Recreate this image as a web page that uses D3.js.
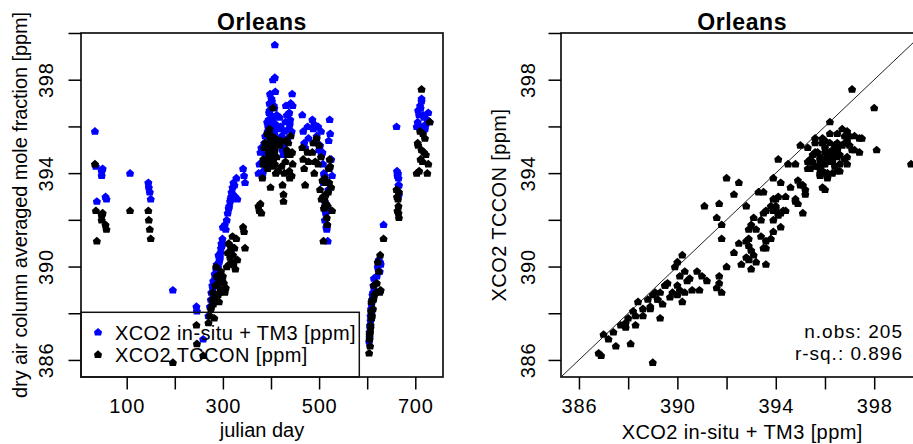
<!DOCTYPE html>
<html>
<head>
<meta charset="utf-8">
<script src="https://cdn.jsdelivr.net/npm/d3@7"></script>
<style>
  body { margin: 0; background: #fff; }
  svg text { font-family: "Liberation Sans", Arial, sans-serif; fill: #000; }
</style>
</head>
<body>
<div id="chart"></div>
<script>
// XCO2 at Orleans: model (in-situ + TM3) vs TCCON, time series + scatter
// one entry per observation, rows grouped by measurement period
const obsDay = [
  34, 36, 38, 48, 48, 50, 56, 58,
  107,
  145, 146, 148, 150,
  196, 245, 246, 259,
  270, 273, 275, 278, 280, 282, 284, 286, 288, 290, 292, 294, 295, 296, 298,
  300, 302, 304, 306, 310, 312, 313, 315, 317, 318, 320, 322, 324, 326, 328, 330,
  342, 344, 346,
  374, 376, 378, 380, 382, 384, 384, 386, 388, 388,
  393, 394, 395, 396, 397, 398, 399, 400, 401, 402, 403, 404, 405, 406, 407, 408, 408, 409, 410, 404,
  420, 424, 426, 426, 428, 430, 433, 436, 438, 440, 443, 444, 445,
  465, 467, 469, 471, 476, 478,
  486, 488, 490, 495, 500, 502, 505, 508, 509, 510, 512, 512, 513, 514, 515, 516, 517, 518, 519, 520, 522, 523, 525, 527,
  604, 605, 606, 606, 607, 608, 609, 610, 611, 612, 613, 614, 620, 622, 624, 626, 627, 628, 634,
  661, 664, 665, 665, 666, 666,
  703, 705, 708, 710, 713, 713, 715, 718, 720, 722, 725, 727, 730,
  // second pass over the busy periods
  276, 279, 283, 287, 291, 293, 297, 299, 308, 316, 321,
  392, 395, 397, 399, 401, 403, 405, 407, 412, 415, 418, 422, 431, 435, 439, 441,
  492, 498, 504, 507, 511, 521,
  605, 607, 609, 615, 618,
  662, 663,
  706, 711, 716
];
const obsInsitu = [
  395.8, 394.3, 392.8, 394.1, 393.9, 394.2, 393.0, 392.9,
  394.0,
  393.6, 393.4, 393.2, 392.9,
  389.0, 388.3, 388.1, 386.9,
  387.9, 388.3, 388.6, 389.2, 389.4, 389.3, 389.5, 389.9, 390.0, 390.0, 390.2, 390.4, 390.6, 390.8, 390.9,
  391.7, 391.7, 391.8, 391.6, 392.3, 392.5, 392.6, 392.8, 393.0, 393.2, 393.4, 393.6, 393.5, 393.0, 393.8, 392.9,
  394.2, 393.9, 393.6,
  394.0, 394.4, 394.9, 395.1, 393.9, 394.5, 394.1, 395.3, 394.8, 395.6,
  395.8, 396.0, 396.3, 396.6, 397.0, 397.4, 395.9, 396.5, 396.8, 397.1, 395.9, 396.2, 396.4, 396.9, 395.7, 398.1, 399.5, 397.5, 396.1, 398.0,
  396.0, 395.0, 394.8, 395.2, 395.8, 396.2, 396.5, 395.9, 396.6, 396.3, 395.8, 397.4, 396.9,
  396.5, 395.8, 395.3, 395.1, 396.0, 395.5,
  396.3, 395.9, 396.1, 395.6, 395.0, 395.2, 394.8, 394.4, 393.6, 394.0, 392.8, 392.0, 392.5, 392.3, 391.7, 391.6, 391.8, 391.1, 393.3, 395.4, 396.3, 395.7, 394.6, 393.9,
  386.8, 387.0, 387.4, 387.5, 387.7, 388.2, 388.4, 388.6, 388.8, 388.9, 389.2, 389.5, 389.6, 390.0, 390.3, 389.8, 390.2, 390.1, 391.8,
  396.0, 394.0, 393.8, 393.5, 393.1, 393.5,
  396.0, 396.2, 396.5, 396.9, 397.1, 397.2, 396.0, 396.4, 395.9, 396.1, 396.3, 396.6, 396.2,
  388.9, 389.1, 389.7, 390.1, 390.5, 390.3, 391.0, 391.2, 392.0, 392.9, 393.1,
  396.2, 395.6, 396.7, 396.3, 397.2, 396.0, 395.4, 396.8, 396.5, 395.9, 396.4, 395.6, 396.9, 395.5, 396.1, 397.0,
  395.3, 396.0, 395.8, 394.9, 393.9, 394.2,
  387.2, 387.9, 388.0, 389.0, 389.3,
  394.1, 393.9,
  396.7, 396.8, 396.5
];
const obsTccon = [
  394.4, 392.4, 391.1, 392.2, 392.0, 392.3, 391.8, 391.6,
  392.4,
  392.4, 392.0, 391.6, 391.2,
  385.9, 387.5, 386.7, 386.2,
  387.6, 387.9, 388.2, 388.6, 388.4, 387.8, 389.2, 390.0, 389.2, 388.8, 388.5, 389.4, 389.0, 389.8, 389.0,
  389.6, 389.3, 388.9, 389.1, 390.6, 391.0, 390.1, 390.4, 390.7, 390.2, 391.3, 390.1, 390.8, 389.9, 391.2, 390.3,
  391.7, 391.5, 390.8,
  392.6, 392.4, 392.7, 392.3, 393.8, 394.4, 394.6, 395.1, 394.4, 395.3,
  394.2, 394.6, 395.0, 394.8, 395.2, 395.5, 393.4, 395.3, 395.6, 395.0, 394.4, 394.9, 394.3, 394.7, 394.9, 395.0, 394.4, 395.5, 394.0, 396.8,
  395.4, 393.5, 392.8, 393.1, 394.0, 394.5, 395.0, 395.3, 394.1, 394.8, 393.9, 394.9, 394.4,
  395.1, 394.6, 394.2, 393.5, 394.9, 394.5,
  394.9, 395.3, 394.0, 395.5, 395.2, 393.3, 392.9, 393.0, 391.1, 392.5, 392.6, 393.8, 393.6, 393.1, 392.7, 392.1, 391.8, 392.6, 393.2, 394.2, 394.6, 394.3, 393.4, 392.4,
  386.3, 387.1, 387.2, 386.6, 387.5, 388.1, 388.5, 387.9, 388.6, 388.2, 388.6, 389.2, 389.3, 390.2, 389.8, 388.9, 390.5, 389.0, 391.2,
  393.3, 392.9, 392.6, 392.3, 392.1, 393.2,
  394.0, 395.3, 394.1, 395.8, 397.6, 395.0, 394.5, 394.9, 395.5, 394.8, 394.0, 394.4, 396.2,
  388.3, 388.9, 388.7, 389.6, 389.5, 388.9, 389.6, 389.4, 390.0, 390.9, 390.5,
  395.7, 394.9, 395.9, 394.5, 395.6, 395.1, 394.6, 395.3, 394.7, 394.1, 395.2, 394.3, 395.4, 394.8, 393.8, 395.6,
  394.5, 394.4, 394.7, 393.7, 392.9, 393.6,
  386.9, 387.4, 387.8, 388.8, 388.9,
  393.0, 392.4,
  395.2, 394.6, 395.7
];

const dayTicks = [100, 200, 300, 400, 500, 600, 700];
const dayLabels = [100, 300, 500, 700];
const ppmTicks = [386, 388, 390, 392, 394, 396, 398, 400];
const ppmLabels = [386, 390, 394, 398];
const seriesNames = ['XCO2 in-situ + TM3 [ppm]', 'XCO2 TCCON [ppm]'];
const seriesColors = ['#0000ff', '#000000'];
const panelTitle = 'Orleans';
const nObs = 205;
const rSq = 0.896;

if (obsDay.length !== obsInsitu.length || obsDay.length !== obsTccon.length)
  console.error('obs arrays out of sync', obsDay.length, obsInsitu.length, obsTccon.length);

const W = 913, H = 444;
const tickLen = 12.5;
const FONT = 20;

// panel boxes (R plot regions)
const leftBox = {x0: 81, x1: 443, y0: 33, y1: 377};
const rightBox = {x0: 561, x1: 923.4, y0: 33, y1: 377};

const dayX = d3.scaleLinear().domain([5, 757.6]).range([leftBox.x0, leftBox.x1]);
const ppmY = d3.scaleLinear().domain([385.27, 400]).range([leftBox.y1, leftBox.y0]);
const ppmX = d3.scaleLinear().domain([385.27, 400]).range([rightBox.x0, rightBox.x1]);

const svg = d3.select('#chart').append('svg')
    .attr('width', W)
    .attr('height', H);

// small filled blob like R's low-res pch
const markerPath = 'M0,-4L4,-0.6L3.1,3.6L-3.1,3.6L-4,-0.6Z';

function drawMarks(g, xs, ys, color) {
  g.append('g')
      .selectAll('path')
      .data(d3.range(xs.length))
      .enter().append('path')
      .attr('d', markerPath)
      .attr('fill', color)
      .attr('transform', (i) => 'translate(' + xs[i] + ',' + ys[i] + ')');
}

function yAxis(g, box, labelX) {
  const ax = d3.axisLeft(ppmY)
      .tickValues(ppmTicks)
      .tickSize(tickLen)
      .tickSizeOuter(0)
      .tickFormat((d) => ppmLabels.includes(d) ? String(d) : '');
  const a = g.append('g')
      .attr('transform', 'translate(' + box.x0 + ',0)')
      .call(ax);
  a.select('.domain').remove();
  a.selectAll('line').attr('stroke', '#000').attr('stroke-width', 1.5);
  a.selectAll('text')
      .attr('x', null).attr('dy', null)
      .attr('text-anchor', 'middle')
      .attr('font-size', FONT)
      .attr('letter-spacing', 0.8)
      .attr('transform', 'translate(' + (labelX - box.x0) + ',0) rotate(-90)');
}

function xAxis(g, scale, ticks, labels, box) {
  const ax = d3.axisBottom(scale)
      .tickValues(ticks)
      .tickSize(tickLen)
      .tickSizeOuter(0)
      .tickFormat((d) => labels.includes(d) ? String(d) : '');
  const a = g.append('g')
      .attr('transform', 'translate(0,' + box.y1 + ')')
      .call(ax);
  a.select('.domain').remove();
  a.selectAll('line').attr('stroke', '#000').attr('stroke-width', 1.5);
  a.selectAll('text')
      .attr('y', 413 - box.y1).attr('dy', null)
      .attr('font-size', FONT)
      .attr('letter-spacing', 0.8);
}

function frame(g, box) {
  g.append('rect')
      .attr('x', box.x0).attr('y', box.y0)
      .attr('width', box.x1 - box.x0).attr('height', box.y1 - box.y0)
      .attr('fill', 'none')
      .attr('stroke', '#111')
      .attr('stroke-width', 1.7);
  g.append('text')
      .attr('x', (box.x0 + box.x1) / 2)
      .attr('y', 30)
      .attr('text-anchor', 'middle')
      .attr('font-size', 23)
      .attr('font-weight', 'bold')
      .attr('letter-spacing', 0.6)
      .text(panelTitle);
}

// ---------- left panel: time series ----------
const left = svg.append('g');
drawMarks(left, obsDay.map(dayX), obsInsitu.map(ppmY), seriesColors[0]);
drawMarks(left, obsDay.map(dayX), obsTccon.map(ppmY), seriesColors[1]);
frame(left, leftBox);
yAxis(left, leftBox, 53);
xAxis(left, dayX, dayTicks, dayLabels, leftBox);

left.append('text')
    .attr('x', (leftBox.x0 + leftBox.x1) / 2)
    .attr('y', 437)
    .attr('text-anchor', 'middle')
    .attr('font-size', FONT)
    .text('julian day');
left.append('text')
    .attr('transform', 'translate(27,' + (leftBox.y0 + leftBox.y1) / 2 + ') rotate(-90)')
    .attr('text-anchor', 'middle')
    .attr('font-size', FONT)
    .attr('letter-spacing', -0.1)
    .text('dry air column averaged mole fraction [ppm]');

// legend (transparent box in the lower left corner)
const legend = left.append('g');
legend.append('rect')
    .attr('x', leftBox.x0).attr('y', 312.3)
    .attr('width', 359.3 - leftBox.x0).attr('height', leftBox.y1 - 312.3)
    .attr('fill', 'none')
    .attr('stroke', '#111')
    .attr('stroke-width', 1.5);
seriesNames.forEach((name, i) => {
  const cy = 332 + i * 22.3;
  legend.append('path')
      .attr('d', markerPath)
      .attr('fill', seriesColors[i])
      .attr('transform', 'translate(98,' + cy + ')');
  legend.append('text')
      .attr('x', 115)
      .attr('y', cy + 7.5)
      .attr('font-size', FONT)
      .attr('letter-spacing', 0.4)
      .text(name);
});

// ---------- right panel: scatter ----------
svg.append('defs').append('clipPath')
    .attr('id', 'rclip')
    .append('rect')
    .attr('x', rightBox.x0).attr('y', rightBox.y0)
    .attr('width', rightBox.x1 - rightBox.x0).attr('height', rightBox.y1 - rightBox.y0);

const right = svg.append('g');
const oneToOne = ppmX.domain();
right.append('line')
    .attr('clip-path', 'url(#rclip)')
    .attr('x1', ppmX(oneToOne[0])).attr('y1', ppmY(oneToOne[0]))
    .attr('x2', ppmX(oneToOne[1])).attr('y2', ppmY(oneToOne[1]))
    .attr('stroke', '#222')
    .attr('stroke-width', 1);
drawMarks(right, obsInsitu.map(ppmX), obsTccon.map(ppmY), seriesColors[1]);
frame(right, rightBox);
yAxis(right, rightBox, 535);
xAxis(right, ppmX, ppmTicks, ppmLabels, rightBox);

right.append('text')
    .attr('x', (rightBox.x0 + rightBox.x1) / 2)
    .attr('y', 439)
    .attr('text-anchor', 'middle')
    .attr('font-size', FONT)
    .attr('letter-spacing', 0.4)
    .text(seriesNames[0]);
right.append('text')
    .attr('transform', 'translate(506,' + (rightBox.y0 + rightBox.y1) / 2 + ') rotate(-90)')
    .attr('text-anchor', 'middle')
    .attr('font-size', FONT)
    .attr('letter-spacing', 0.4)
    .text(seriesNames[1]);

// fit summary, two lines just clear of each other
const statLines = ['n.obs: ' + nObs, 'r-sq.: ' + rSq.toFixed(3)];
statLines.forEach((s, i) => {
  right.append('text')
      .attr('x', 903)
      .attr('y', 337.5 + i * 22)
      .attr('text-anchor', 'end')
      .attr('font-size', 19)
      .attr('letter-spacing', 1)
      .text(s);
});
</script>
</body>
</html>
